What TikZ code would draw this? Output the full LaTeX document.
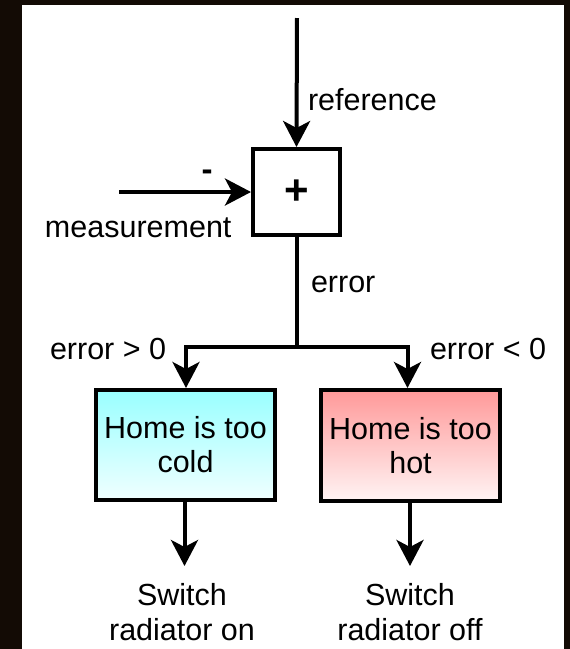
\documentclass[tikz,border=0pt]{standalone}
\usepackage{fontspec}
\setmainfont{Liberation Sans}
\usetikzlibrary{arrows.meta}
\definecolor{bgdark}{HTML}{130B05}
\definecolor{coldtop}{HTML}{99FFFF}
\definecolor{coldbot}{HTML}{F0FFFF}
\definecolor{hottop}{HTML}{FF9999}
\definecolor{hotbot}{HTML}{FFF4F4}
\tikzset{
  lbl/.style={font=\fontsize{30.5}{34}\selectfont, inner sep=0pt},
  box/.style={draw, line width=4pt, align=center, font=\fontsize{30.5}{34}\selectfont, inner sep=0pt},
  conn/.style={line width=4pt, -{Stealth[length=26pt,width=27pt,inset=7pt]}},
  plain/.style={line width=4pt}
}
\begin{document}
\begin{tikzpicture}[x=1pt,y=-1pt,line width=4pt]
\useasboundingbox (0,0) rectangle (570,649);
\fill[bgdark] (0,0) rectangle (570,649);
\fill[white] (22,5) rectangle (564,649);

\node[box, minimum width=87pt, minimum height=86pt] (sum) at (296.5,192) {\fontsize{42}{44}\selectfont\bfseries +};
\node[box, top color=coldtop, bottom color=coldbot, minimum width=179pt, minimum height=110pt] (cold) at (185.5,445) {Home is too\\cold};
\node[box, top color=hottop, bottom color=hotbot, minimum width=179pt, minimum height=111pt] (hot) at (410.5,445.5) {Home is too\\hot};

\coordinate (refStart) at (297,18);
\coordinate (measStart) at (119,192);
\coordinate (split) at (296.5,347);
\coordinate (coldIn) at (186,347);
\coordinate (hotIn) at (407.5,347);
\coordinate (onTip) at (184.5,566);
\coordinate (offTip) at (410,566);

\node[lbl, anchor=base west] (reflbl) at (306,110) {reference};
\node[lbl, anchor=base west] (measlbl) at (43,237) {measurement};
\node[lbl, font=\fontsize{33}{36}\selectfont\bfseries] (minus) at (207,175) {-};
\node[lbl, anchor=base west] (errlbl) at (309,292) {error};
\node[lbl, anchor=base west] (gtlbl) at (48,359) {error > 0};
\node[lbl, anchor=base west] (ltlbl) at (428,359) {error < 0};
\node[lbl, anchor=base] (on1) at (182,605) {Switch};
\node[lbl, anchor=base] (on2) at (182,640) {radiator on};
\node[lbl, anchor=base] (off1) at (410,605) {Switch};
\node[lbl, anchor=base] (off2) at (410,640) {radiator off};

\draw[conn] (refStart) -- (sum.north);
\draw[conn] (measStart) -- (sum.west);
\draw[plain] (sum.south) -- (split);
\draw[plain, line cap=rect] (coldIn) -- (hotIn);
\draw[conn] (coldIn) -- (coldIn |- cold.north);
\draw[conn] (hotIn) -- (hotIn |- hot.north);
\draw[conn] (cold.south -| onTip) -- (onTip);
\draw[conn] (hot.south -| offTip) -- (offTip);
\end{tikzpicture}
\end{document}
